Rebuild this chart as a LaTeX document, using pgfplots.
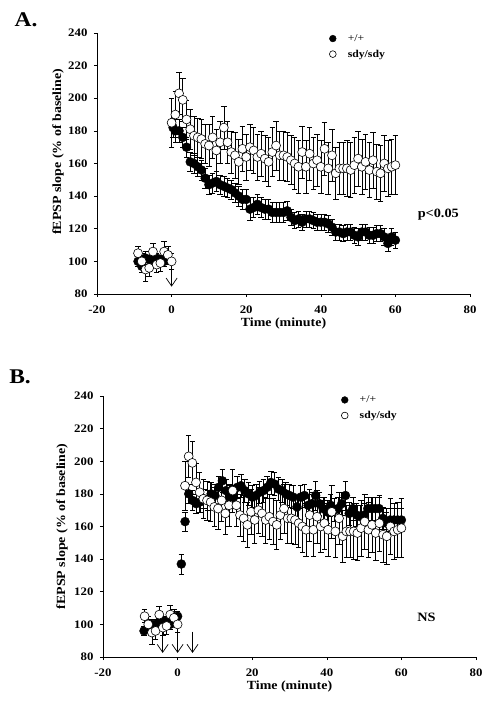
\documentclass[border=0pt]{standalone}
\usepackage{pgfplots}
\pgfplotsset{compat=1.18}
\usepackage{pgfplotstable}
\usetikzlibrary{arrows.meta}
\usepackage{fontspec}
\setmainfont[FakeStretch=1.12]{Liberation Serif}

\pgfplotstableread{
x y e
-9 100 3
-8 97 4
-7 102 4
-6 101 3
-5 101 3
-4 102 3
-3 101 3
-2 100 3
-1 101 3
0.4 182 6
1 180 7
2 180 7
3 176 6
4 170 6
5 161 6
6 160 6
7 158 6
8 156 6
9 151 6
10 147 6
11 148 6
12 149 6
13 147 6
14 146 6
15 145 6
16 144 6
17 142 6
18 140 6
19 138 6
20 138 6
21 132 7
22 133 6
23 135 6
24 133 6
25 132 6
26 132 6
27 130 6
28 130 6
29 130 6
30 130 6
31 131 6
32 127 5
33 125 5
34 126 5
35 124 5
36 126 5
37 126 5
38 125 5
39 124 5
40 124 5
41 124 5
42 123 5
43 121 5
44 118 5
45 118 5
46 117 5
47 118 5
48 118 5
49 116 5
50 115 5
51 118 5
52 118 5
53 116 5
54 116 5
55 117 5
56 117 5
57 115 5
58 111 5
59 115 5
60 113 5
}\Afilled

\pgfplotstableread{
x y e
-9 105 4
-8 100 5
-7 95 7
-6 96 5
-5 106 5
-4 98 5
-3 99 5
-2 106 6
-1 104 5
0 100 5
0 185 15
1 190 14
2 203 13
3 199 13
4 187 12
5 181 12
6 177 12
7 176 12
8 175 12
9 172 12
10 171 13
11 176 13
12 168 13
13 173 13
14 182 13
15 173 13
16 167 13
17 165 14
18 161 14
19 169 14
20 164 14
21 170 14
22 168 14
23 164 14
24 166 14
25 163 14
26 161 15
27 167 15
28 171 15
29 165 15
30 165 15
31 164 15
32 162 15
33 160 16
34 158 16
35 167 16
36 158 16
37 166 16
38 160 16
39 162 16
40 158 16
41 169 16
42 157 16
43 165 16
44 154 16
45 157 16
46 157 16
47 157 17
48 156 17
49 159 17
50 163 17
51 158 17
52 161 17
53 156 17
54 162 17
55 155 17
56 154 17
57 160 17
58 157 17
59 158 17
60 159 18
}\Aopen

\pgfplotstableread{
x y e
-9 96 3
-8 98 3
-7 100 3
-6 100 3
-5 101 3
-4 102 3
-3 102 3
-2 100 3
-1 103 3
0 105 3
1 137 6
2 163 6
3 180 6
4 176 6
5 174 6
6 175 6
7 177 6
8 176 6
9 180 7
10 179 7
11 184 7
12 188 7
13 182 7
14 178 7
15 178 7
16 184 7
17 185 7
18 182 7
19 180 7
20 178 7
21 179 7
22 181 7
23 182 7
24 184 7
25 187 7
26 186 7
27 183 7
28 182 7
29 180 7
30 179 7
31 178 7
32 172 7
33 178 7
34 179 7
35 173 7
36 174 7
37 179 9
38 174 7
39 171 7
40 169 7
41 173 7
42 170 7
43 171 7
44 174 7
45 179 9
46 168 7
47 171 7
48 167 7
49 166 7
50 167 7
51 171 7
52 171 7
53 171 7
54 171 7
55 165 7
56 162 7
57 164 7
58 164 7
59 164 7
60 164 7
}\Bfilled

\pgfplotstableread{
x y e
-9 105 4
-8 100 5
-7 95 7
-6 96 5
-5 106 5
-4 98 5
-3 99 5
-2 106 6
-1 104 5
0 100 5
1 185 15
2 203 13
3 199 13
4 187 12
5 181 12
6 177 12
7 176 12
8 175 12
9 172 12
10 171 13
11 176 13
12 168 13
13 173 13
14 182 13
15 173 13
16 167 13
17 165 14
18 161 14
19 169 14
20 164 14
21 170 14
22 168 14
23 164 14
24 166 14
25 163 14
26 161 15
27 167 15
28 171 15
29 165 15
30 165 15
31 164 15
32 162 15
33 160 16
34 158 16
35 167 16
36 158 16
37 166 16
38 160 16
39 162 16
40 158 16
41 169 16
42 157 16
43 165 16
44 154 16
45 157 16
46 157 16
47 157 17
48 156 17
49 159 17
50 163 17
51 158 17
52 161 17
53 156 17
54 162 17
55 155 17
56 154 17
57 160 17
58 157 17
59 158 17
60 159 18
}\Bopen

\tikzset{stim/.style={->, >={Straight Barb[length=8bp, width=11bp, line width=0.7pt]}, line width=0.7pt}}

\pgfplotsset{
  ephys/.style={
    scale only axis,
    width=373bp, height=261bp,
    xmin=-20, xmax=80, ymin=80, ymax=240,
    axis x line*=bottom, axis y line*=left,
    xtick={-20,0,20,40,60,80},
    ytick={80,100,...,240},
    tick align=outside,
    major tick length=3bp,
    tick style={black, line width=0.6pt},
    axis line style={line width=0.7pt},
    /pgf/number format/assume math mode=true,
    ticklabel style={font=\fontsize{11.5}{12}\selectfont\bfseries},
    xticklabel style={yshift=-5bp},
    yticklabel style={xshift=-3bp},
    xlabel={Time (minute)},
    ylabel={fEPSP slope (\% of baseline)},
    xlabel style={font=\fontsize{12.5}{14}\selectfont\bfseries,
      at={(axis description cs:0.5,0)}, anchor=center, yshift=-30bp},
    ylabel style={font=\fontsize{12.5}{13}\selectfont\bfseries, anchor=center},
    clip=false,
    legend style={draw=none, fill=none, font=\fontsize{10.5}{12}\selectfont,
      row sep=3bp, inner sep=0pt},
    legend cell align=left,
    legend image code/.code={\path (-0.12cm,0) (0.45cm,0); \draw[mark size=3.4pt,#1] plot coordinates {(0cm,0)};},
    filledpts/.style={only marks, mark=*, mark size=4.5pt,
      mark options={fill=black, draw=black},
      error bars/.cd, y dir=both, y explicit,
      error bar style={black, line width=0.6pt},
      error mark options={rotate=90, mark size=2.8pt, black, line width=0.6pt}},
    openpts/.style={only marks, mark=*, mark size=4.5pt,
      mark options={fill=white, draw=black, line width=0.6pt},
      error bars/.cd, y dir=both, y explicit,
      error bar style={black, line width=0.6pt},
      error mark options={rotate=90, mark size=2.8pt, black, line width=0.6pt}},
  },
}

\begin{document}
\begin{tikzpicture}
\useasboundingbox (0,0) rectangle (490bp,705bp);
\node[font=\fontsize{21}{24}\selectfont\bfseries] at (26bp,685bp) {A.};
\node[font=\fontsize{21}{24}\selectfont\bfseries] at (20bp,328bp) {B.};

% Panel A
\begin{axis}[ephys, at={(97bp,411bp)}, anchor=south west,
  ylabel style={at={([xshift=-39bp]axis description cs:0,0.545)}},
  legend style={at={(axis cs:42.2,240.5)}, anchor=north west}]
\addplot+[filledpts] table[x=x, y=y, y error=e] {\Afilled};
\addlegendentry{+/+}
\addplot+[openpts] table[x=x, y=y, y error=e] {\Aopen};
\addlegendentry{\textbf{sdy/sdy}}
\draw[stim] (axis cs:0,97) -- (axis cs:0,84.5);
\node[font=\fontsize{12.8}{14}\selectfont\bfseries] at (axis cs:71.5,128.5) {p<0.05};
\end{axis}

% Panel B
\begin{axis}[ephys, at={(103bp,48bp)}, anchor=south west,
  ylabel style={at={([xshift=-41bp]axis description cs:0,0.5)}},
  legend style={at={(axis cs:43.8,241.5)}, anchor=north west}]
\addplot+[filledpts] table[x=x, y=y, y error=e] {\Bfilled};
\addlegendentry{+/+}
\addplot+[openpts] table[x expr=\thisrow{x}*59/60+(\thisrow{x}>0)*1, y=y, y error=e] {\Bopen};
\addlegendentry{\textbf{sdy/sdy}}
\draw[stim] (axis cs:-4,95.5) -- (axis cs:-4,82.5);
\draw[stim] (axis cs:0,95.5) -- (axis cs:0,82.5);
\draw[stim] (axis cs:4,95.5) -- (axis cs:4,82.5);
\node[font=\fontsize{12.8}{14}\selectfont\bfseries] at (axis cs:66.7,104.5) {NS};
\end{axis}
\end{tikzpicture}
\end{document}
